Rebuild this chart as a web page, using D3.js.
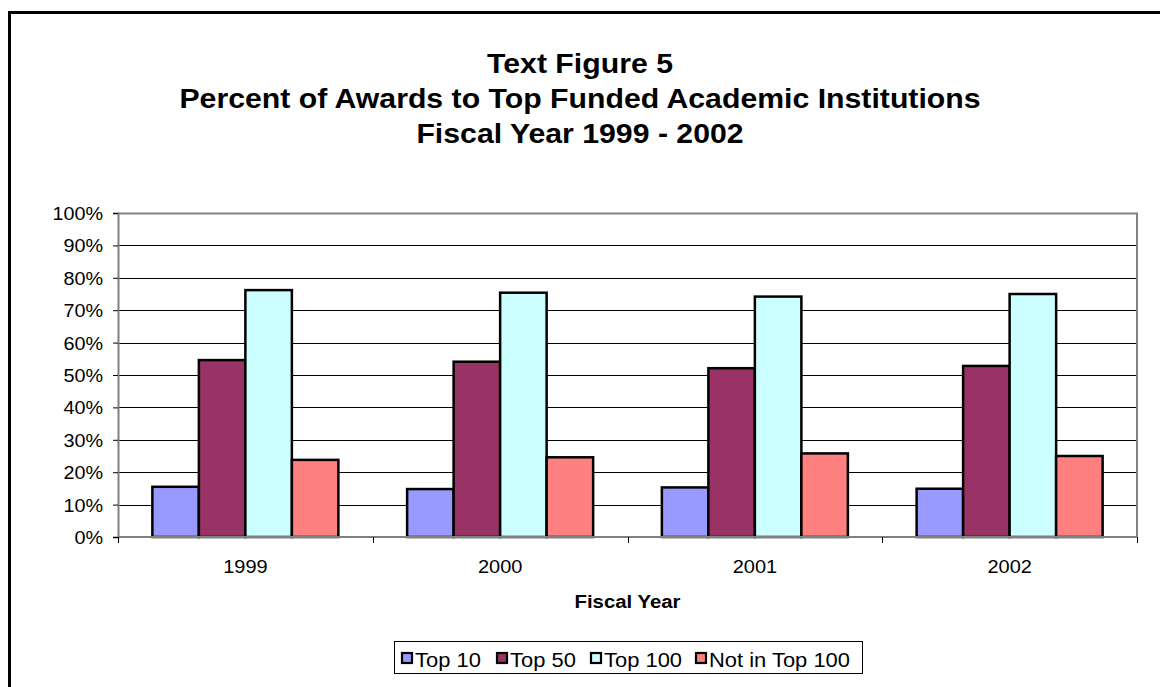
<!DOCTYPE html>
<html><head><meta charset="utf-8">
<script src="https://cdn.jsdelivr.net/npm/d3@7"></script>
<style>body{margin:0;background:#fff}svg{display:block;font-family:"Liberation Sans",Arial,sans-serif}</style>
</head><body><svg id="c" width="1160" height="687"></svg>
<script>
const titleLines = ["Text Figure 5","Percent of Awards to Top Funded Academic Institutions","Fiscal Year 1999 - 2002"];
const years = ["1999","2000","2001","2002"];
const seriesNames = ["Top 10","Top 50","Top 100","Not in Top 100"];
const seriesColors = ["#9999ff","#993366","#ccffff","#ff8080"];
const top10 = [15.5,14.8,15.3,14.9];
const top50 = [54.6,54.1,52.1,52.8];
const top100 = [76.2,75.4,74.2,75.0];
const notTop100 = [23.8,24.6,25.8,25.0];
const yTicks = [0,10,20,30,40,50,60,70,80,90,100];
const xTitle = "Fiscal Year";

const seriesVals = [top10, top50, top100, notTop100];
const svg = d3.select("#c");
const L = 118, R = 1137, T = 213, B = 537;

function addText(parent, x, y, str, size, weight, anchor, sx){
  return parent.append("text")
    .attr("transform",`translate(${x},${y}) scale(${sx},1)`)
    .attr("text-anchor",anchor).attr("font-size",size).attr("font-weight",weight)
    .attr("fill","#000").text(str);
}

// outer border
svg.append("rect").attr("x",9.5).attr("y",12.5).attr("width",1200).attr("height",700)
  .attr("fill","none").attr("stroke","#000").attr("stroke-width",3);

// title
titleLines.forEach((t,i)=>{
  addText(svg, 580, 73+i*35, t, 27, "bold", "middle", 1.12);
});

const y = d3.scaleLinear().domain([0,100]).range([B,T]);
const x0 = d3.scaleBand().domain(years).range([L,R]).padding(0);
const x1 = d3.scaleBand().domain(seriesNames).range([0,x0.bandwidth()]).paddingInner(0).paddingOuter(0.739);

// gridlines
svg.append("g").selectAll("line").data(yTicks.filter(d=>d>0 && d<100)).join("line")
  .attr("x1",L).attr("x2",R).attr("y1",d=>Math.round(y(d))+0.5).attr("y2",d=>Math.round(y(d))+0.5)
  .attr("stroke","#000").attr("stroke-width",1);
// plot border top/right
svg.append("path").attr("d",`M${L},${T+0.5}H${R}V${B}`).attr("fill","none").attr("stroke","#808080").attr("stroke-width",2);

// bars
const g = svg.append("g");
years.forEach((yr,i)=>{
  seriesNames.forEach((s,j)=>{
    const v = seriesVals[j][i];
    g.append("rect").attr("x",x0(yr)+x1(s)).attr("y",y(v)).attr("width",x1.bandwidth()).attr("height",B-y(v))
      .attr("fill",seriesColors[j]).attr("stroke","#000").attr("stroke-width",2.5);
  });
});

// y axis
const yAxis = d3.axisLeft(y).tickValues(yTicks).tickFormat(d=>d+"%").tickSize(5).tickPadding(0);
const ya = svg.append("g").attr("transform",`translate(${L},0)`).call(yAxis);
ya.select(".domain").attr("stroke","#808080").attr("stroke-width",2);
ya.selectAll(".tick line").attr("stroke","#000");
ya.selectAll(".tick text")
  .attr("x",null).attr("dy",null)
  .attr("transform","translate(-15,6.5) scale(1.1,1)")
  .attr("font-size",18).attr("fill","#000").attr("font-family","Liberation Sans, Arial, sans-serif");

// x axis
const xb = d3.scaleLinear().domain([0,4]).range([L,R]);
svg.append("line").attr("x1",L).attr("x2",R).attr("y1",B).attr("y2",B).attr("stroke","#808080").attr("stroke-width",2);
svg.append("g").selectAll("line").data([0,1,2,3,4]).join("line")
  .attr("x1",d=>Math.round(xb(d))+0.5).attr("x2",d=>Math.round(xb(d))+0.5).attr("y1",B).attr("y2",B+6).attr("stroke","#000");
const xl = svg.append("g");
years.forEach(d=>addText(xl, x0(d)+x0.bandwidth()/2, 573, d, 18.5, "normal", "middle", 1.08));

addText(svg, (L+R)/2, 608, xTitle, 18.5, "bold", "middle", 1.1);

// legend
svg.append("rect").attr("x",394.5).attr("y",641.5).attr("width",468).attr("height",32).attr("fill","#fff").attr("stroke","#000").attr("stroke-width",1);
const legX = [402, 497, 591, 696];
seriesNames.forEach((s,j)=>{
  svg.append("rect").attr("x",legX[j]).attr("y",653).attr("width",10).attr("height",10)
    .attr("fill",seriesColors[j]).attr("stroke","#000").attr("stroke-width",2.2);
  addText(svg, legX[j]+13, 666.5, s, 20.5, "normal", "start", 1.07);
});
</script></body></html>
